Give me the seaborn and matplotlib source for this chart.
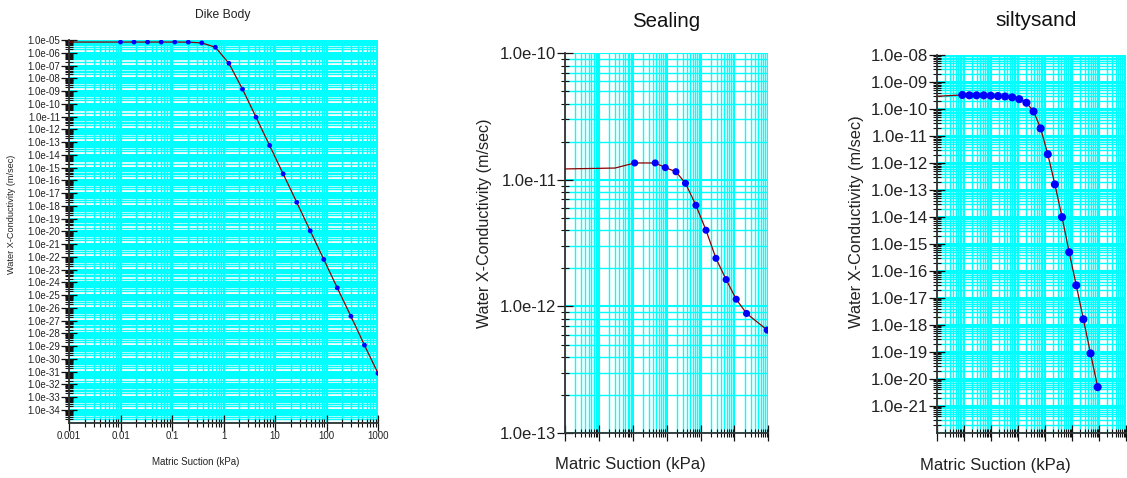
import numpy as np
import pandas as pd
import matplotlib
matplotlib.use("Agg")
import matplotlib.pyplot as plt
from matplotlib.ticker import FixedLocator, FuncFormatter, NullFormatter
import seaborn as sns

# ---- datos ----
# Dike Body
dike_suction = [0.01, 0.0183, 0.0336, 0.0616, 0.113, 0.207, 0.379, 0.695, 1.27, 2.34,
                4.28, 7.85, 14.4, 26.4, 48.3, 88.6, 162, 298, 546, 1000]
dike_k = [6.9e-6, 6.9e-6, 6.9e-6, 6.9e-6, 6.9e-6, 6.8e-6, 5.9e-6, 2.7e-6, 1.5e-7, 1.4e-9,
          8.9e-12, 5.4e-14, 3.2e-16, 1.9e-18, 1.1e-20, 6.3e-23, 3.7e-25, 2.2e-27, 1.2e-29, 7.4e-32]
dike_start = (0.001, 6.9e-6)

# Sealing
sealing_suction = [0.114, 0.46, 0.91, 1.88, 3.6, 7.3, 14.5, 28.5, 57, 113, 228, 935]
sealing_k = [1.36e-11, 1.36e-11, 1.25e-11, 1.16e-11, 9.4e-12, 6.3e-12, 4.0e-12, 2.4e-12,
             1.63e-12, 1.14e-12, 8.8e-13, 6.5e-13]
sealing_start = [(0.001, 1.22e-11), (0.03, 1.24e-11)]
sealing_end = (1000, 6.3e-13)

# siltysand
silty_suction = [0.0088, 0.0161, 0.0295, 0.0541, 0.099, 0.182, 0.333, 0.611, 1.12, 2.05,
                 3.76, 6.89, 12.6, 23.1, 42.4, 77.7, 142, 261, 478, 877]
silty_k = [3.3e-10, 3.2e-10, 3.2e-10, 3.2e-10, 3.1e-10, 3.0e-10, 2.9e-10, 2.7e-10, 2.3e-10, 1.7e-10,
           8.1e-11, 1.9e-11, 2.1e-12, 1.6e-13, 9.8e-15, 4.9e-16, 2.9e-17, 1.6e-18, 8.7e-20, 4.9e-21]
silty_start = (0.001, 2.95e-10)

sns.set_theme(style="white")
plt.rcParams['font.family'] = ['Liberation Sans', 'DejaVu Sans']

W, H = 1127, 478
CYAN = '#00FFFF'
fig = plt.figure(figsize=(W / 100, H / 100), dpi=100)


def px_axes(x0, x1, ytop, ybot):
    return fig.add_axes([x0 / W, 1 - ybot / H, (x1 - x0) / W, (ybot - ytop) / H])


def decades(lo, hi):
    return [10.0 ** e for e in range(lo, hi + 1)]


def minors(lo, hi):
    return [m * 10.0 ** e for e in range(lo, hi) for m in range(2, 10)]


def estilo(ax, xlim, ylim, ymaj, tsize, xlabels):
    ax.set_xscale('log')
    ax.set_yscale('log')
    ax.set_xlim(*xlim)
    ax.set_ylim(*ylim)
    xe = (int(np.log10(xlim[0])), int(np.log10(xlim[1])))
    ye = (int(round(np.log10(ylim[0]))), int(round(np.log10(ylim[1]))))
    ax.xaxis.set_major_locator(FixedLocator(decades(*xe)))
    ax.xaxis.set_minor_locator(FixedLocator(minors(*xe)))
    ax.yaxis.set_major_locator(FixedLocator(decades(*ymaj)))
    ax.yaxis.set_minor_locator(FixedLocator(minors(*ye)))
    ax.yaxis.set_major_formatter(FuncFormatter(lambda v, p: f"{v:.1e}"))
    ax.yaxis.set_minor_formatter(NullFormatter())
    ax.xaxis.set_minor_formatter(NullFormatter())
    if xlabels:
        ax.xaxis.set_major_formatter(FuncFormatter(lambda v, p: f"{v:g}"))
    else:
        ax.xaxis.set_major_formatter(NullFormatter())
    for s in ['top', 'right']:
        ax.spines[s].set_visible(False)
    for s in ['left', 'bottom']:
        ax.spines[s].set_color('#333333')
        ax.spines[s].set_linewidth(1.3)
    ax.tick_params(which='major', direction='inout', length=11.5, width=0.9,
                   color='#111111', labelsize=tsize, labelcolor='#222222', pad=0.5,
                   left=True, bottom=True)
    ax.tick_params(which='minor', direction='inout', length=6, width=0.8,
                   color='#111111', left=True, bottom=True)
    # rejilla cyan dibujada a mano
    ax.grid(False, which='both')
    for v in decades(*xe):
        ax.axvline(v, color=CYAN, linewidth=1.5, zorder=0.5)
    for v in minors(*xe):
        ax.axvline(v, color=CYAN, linewidth=1.0, zorder=0.5)
    for v in decades(*ye):
        ax.axhline(v, color=CYAN, linewidth=1.5, zorder=0.5)
    for v in minors(*ye):
        ax.axhline(v, color=CYAN, linewidth=1.0, zorder=0.5)
    ax.set_xlim(*xlim)
    ax.set_ylim(*ylim)


def curva(ax, sx, sy, lx, ly, msize):
    sns.lineplot(x=lx, y=ly, ax=ax, color='#8B0000', linewidth=0.9,
                 estimator=None, sort=False, zorder=3)
    sns.scatterplot(x=sx, y=sy, ax=ax, color='#0000FF', s=msize,
                    edgecolor='none', zorder=4)


# ---- Dike Body ----
ax1 = px_axes(69, 378, 40, 422.7)
curva(ax1, dike_suction, dike_k,
      [dike_start[0]] + dike_suction, [dike_start[1]] + dike_k, 12)
estilo(ax1, (1e-3, 1e3), (1e-35, 1e-5), (-34, -5), 7, True)
ax1.set_xlabel('Matric Suction (kPa)', fontsize=7, color='#222222')
ax1.set_ylabel('Water X-Conductivity (m/sec)', fontsize=6.6, color='#222222')
ax1.xaxis.set_label_coords(0.409, -0.089)
ax1.yaxis.set_label_coords(-0.170, 0.544)
fig.text(223 / W, 1 - 17.7 / H, 'Dike Body', ha='center', va='baseline',
         fontsize=8.7, color='#222222')

# ---- Sealing ----
ax2 = px_axes(565, 768.3, 53.3, 433)
curva(ax2, sealing_suction, sealing_k,
      [p[0] for p in sealing_start] + sealing_suction + [sealing_end[0]],
      [p[1] for p in sealing_start] + sealing_k + [sealing_end[1]], 26)
estilo(ax2, (1e-3, 1e3), (1e-13, 1e-10), (-13, -10), 12, False)
ax2.set_xlabel('Matric Suction (kPa)', fontsize=12, color='#222222')
ax2.set_ylabel('Water X-Conductivity (m/sec)', fontsize=11.6, color='#222222')
ax2.xaxis.set_label_coords(0.324, -0.063)
ax2.yaxis.set_label_coords(-0.359, 0.553)
fig.text(666 / W, 1 - 26.7 / H, 'Sealing', ha='center', va='baseline',
         fontsize=14.7, color='#111111')

# ---- siltysand ----
ax3 = px_axes(936.7, 1126.3, 55, 432.7)
curva(ax3, silty_suction, silty_k,
      [silty_start[0]] + silty_suction, [silty_start[1]] + silty_k, 34)
estilo(ax3, (1e-3, 1e4), (1e-22, 1e-8), (-21, -8), 12.2, False)
ax3.set_xlabel('Matric Suction (kPa)', fontsize=12, color='#222222')
ax3.set_ylabel('Water X-Conductivity (m/sec)', fontsize=11.8, color='#222222')
ax3.xaxis.set_label_coords(0.311, -0.066)
ax3.yaxis.set_label_coords(-0.386, 0.559)
fig.text(1036 / W, 1 - 26 / H, 'siltysand', ha='center', va='baseline',
         fontsize=15, color='#111111')

fig.savefig('out.png', dpi=100)
